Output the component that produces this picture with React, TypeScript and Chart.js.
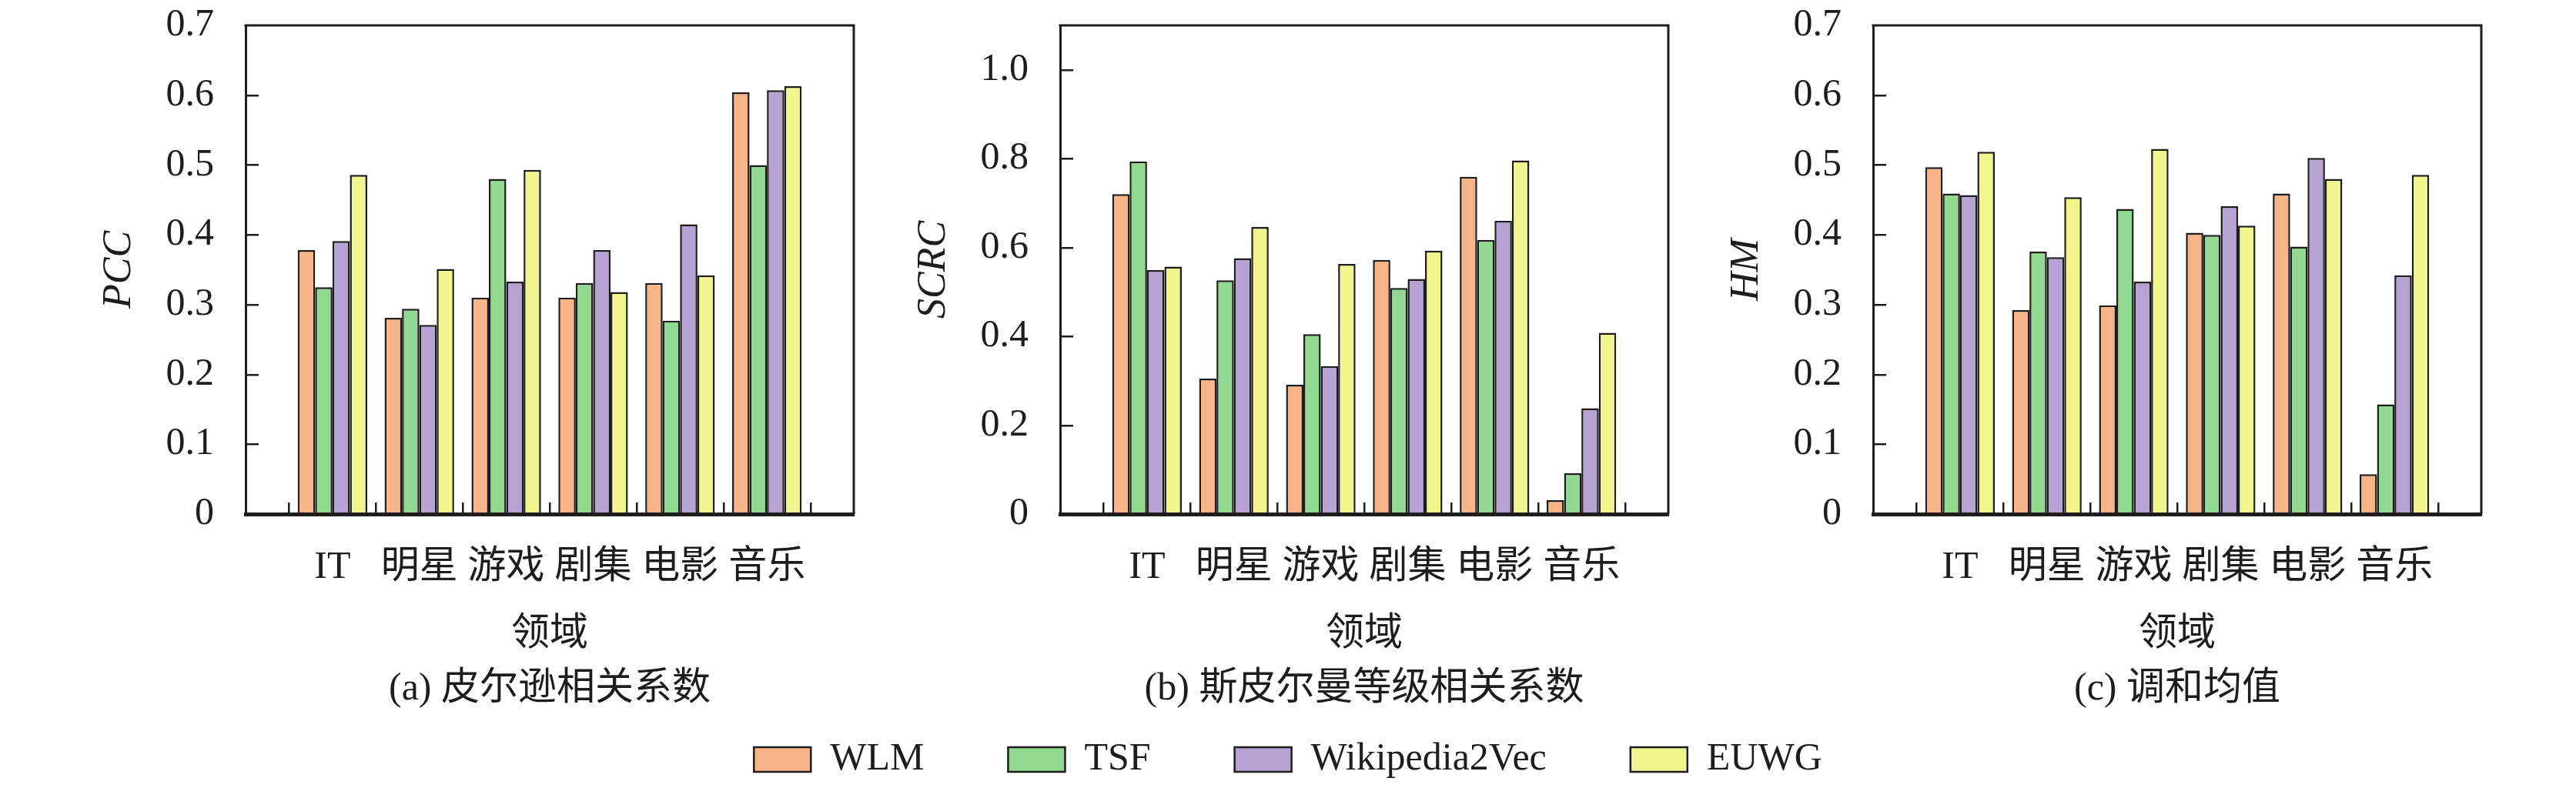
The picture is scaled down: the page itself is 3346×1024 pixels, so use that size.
import React, { useEffect, useRef } from 'react';
import { Chart, registerables } from 'chart.js';

Chart.register(...registerables);

// ---------------- data ----------------
const CATEGORIES = ['IT', '明星', '游戏', '剧集', '电影', '音乐'];
const SERIES_NAMES = ['WLM', 'TSF', 'Wikipedia2Vec', 'EUWG'];
const SERIES_COLORS = ['#F6B488', '#91D891', '#B7A2D4', '#F0F58D'];

const PCC_WLM = [0.378, 0.281, 0.310, 0.310, 0.331, 0.604];
const PCC_TSF = [0.325, 0.294, 0.480, 0.331, 0.277, 0.500];
const PCC_WIKI = [0.391, 0.271, 0.333, 0.378, 0.415, 0.607];
const PCC_EUWG = [0.486, 0.351, 0.493, 0.318, 0.342, 0.613];

const SCRC_WLM = [0.720, 0.305, 0.291, 0.572, 0.759, 0.031];
const SCRC_TSF = [0.794, 0.526, 0.405, 0.509, 0.617, 0.092];
const SCRC_WIKI = [0.549, 0.576, 0.333, 0.529, 0.660, 0.238];
const SCRC_EUWG = [0.557, 0.646, 0.563, 0.593, 0.796, 0.408];

const HM_WLM = [0.497, 0.292, 0.299, 0.403, 0.459, 0.057];
const HM_TSF = [0.459, 0.376, 0.437, 0.400, 0.383, 0.157];
const HM_WIKI = [0.457, 0.368, 0.333, 0.441, 0.510, 0.342];
const HM_EUWG = [0.519, 0.454, 0.523, 0.413, 0.480, 0.486];

const PCC_TICKS = [0, 0.1, 0.2, 0.3, 0.4, 0.5, 0.6, 0.7];
const SCRC_TICKS = [0, 0.2, 0.4, 0.6, 0.8, 1.0];
const HM_TICKS = [0, 0.1, 0.2, 0.3, 0.4, 0.5, 0.6, 0.7];

const X_TITLE = '领域';

// ---------------- style ----------------
const TEXT = '#1e1c1d';
const BAR_BORDER = '#1e1c1d';
const FAMILY = "'Liberation Serif', 'Times New Roman', 'Noto Sans CJK SC', serif";
const CW = 1115;
const CH = 940;

const fmt = (v: number) => (v === 0 ? '0' : Number(v).toFixed(1));

// frame (top + right lines) and inner tick marks, positioned through the scales
const framePlugin = {
  id: 'frame',
  afterDatasetsDraw(chart: any) {
    const { ctx, chartArea } = chart;
    const { left, right, top, bottom } = chartArea;
    const xs = chart.scales.x;
    const ys = chart.scales.y;
    ctx.save();
    ctx.strokeStyle = TEXT;
    ctx.lineWidth = 3;
    ctx.beginPath();
    ctx.moveTo(left - 1.5, top);
    ctx.lineTo(right, top);
    ctx.lineTo(right, bottom);
    ctx.stroke();
    ctx.lineWidth = 2.5;
    ctx.beginPath();
    for (let i = 0; i <= CATEGORIES.length; i++) {
      const px = Math.round(xs.getPixelForValue(i - 0.5)) + 0.25;
      ctx.moveTo(px, bottom);
      ctx.lineTo(px, bottom - 15);
    }
    const ticks = ys.ticks.map((t: any) => t.value);
    for (const v of ticks) {
      if (v <= ys.min || v >= ys.max) continue;
      const py = Math.round(ys.getPixelForValue(v)) + 0.25;
      ctx.moveTo(left, py);
      ctx.lineTo(left + 17, py);
    }
    ctx.stroke();
    ctx.restore();
  },
};

type PanelProps = {
  left: number;
  yTitle: string;
  subtitle: string;
  series: number[][];
  yMax: number;
  yTicks: number[];
};

function Panel({ left, yTitle, subtitle, series, yMax, yTicks }: PanelProps) {
  const ref = useRef<HTMLCanvasElement | null>(null);
  useEffect(() => {
    if (!ref.current) return;
    const font = { family: FAMILY, size: 50, weight: 'normal' as const, lineHeight: 1.2 };
    const chart = new Chart(ref.current, {
      type: 'bar',
      data: {
        datasets: SERIES_NAMES.map((name, k) => ({
          label: name,
          data: series[k].map((v, i) => ({ x: i, y: v })),
          backgroundColor: SERIES_COLORS[k],
          borderColor: BAR_BORDER,
          borderWidth: 2.5,
          categoryPercentage: 0.8,
          barPercentage: 1.0,
        })),
      },
      options: {
        responsive: false,
        animation: false,
        devicePixelRatio: 1,
        layout: { padding: { left: 0, right: 6, top: 33, bottom: 0 } },
        plugins: {
          legend: { display: false },
          tooltip: { enabled: false },
          title: {
            display: true,
            position: 'bottom',
            fullSize: false,
            text: subtitle,
            color: TEXT,
            font,
            padding: { top: 0, bottom: 14 },
          },
        },
        scales: {
          x: {
            type: 'linear',
            min: -1,
            max: 6,
            offset: false,
            afterBuildTicks: (s: any) => {
              s.ticks = CATEGORIES.map((_, i) => ({ value: i }));
            },
            afterFit: (s: any) => {
              s.height = 198;
              s.paddingLeft = 0;
              s.paddingRight = 0;
            },
            ticks: {
              callback: (_v: any, i: number) => CATEGORIES[i],
              color: TEXT,
              font,
              padding: 40,
              maxRotation: 0,
              minRotation: 0,
              autoSkip: false,
            },
            grid: { display: false, drawTicks: false, offset: false },
            border: { display: true, color: TEXT, width: 5, z: 1 },
            title: {
              display: true,
              text: X_TITLE,
              color: TEXT,
              font,
              padding: { top: 0, bottom: 11 },
            },
          } as any,
          y: {
            type: 'linear',
            min: 0,
            max: yMax,
            afterBuildTicks: (s: any) => {
              s.ticks = yTicks.map((v) => ({ value: v }));
            },
            afterFit: (s: any) => {
              s.width = 319;
              s.paddingTop = 0;
              s.paddingBottom = 0;
            },
            ticks: {
              callback: (v: any) => fmt(Number(v)),
              color: TEXT,
              font,
              padding: 41,
            },
            grid: { display: false, drawTicks: false },
            border: { display: true, color: TEXT, width: 3, z: 1 },
            title: {
              display: true,
              text: yTitle,
              color: TEXT,
              font: { family: FAMILY, size: 52, style: 'italic', weight: 'normal', lineHeight: 1.2 },
              padding: { top: 124, bottom: 0 },
            },
          } as any,
        },
      },
      plugins: [framePlugin],
    });
    return () => chart.destroy();
  }, []);
  return (
    <canvas
      ref={ref}
      width={CW}
      height={CH}
      style={{ position: 'absolute', left, top: 0, width: CW, height: CH }}
    />
  );
}

const LEGEND_TOP = 853;
const LEGEND_H = 420;

function Legend() {
  const ref = useRef<HTMLCanvasElement | null>(null);
  useEffect(() => {
    if (!ref.current) return;
    const chart = new Chart(ref.current, {
      type: 'bar',
      data: {
        labels: [],
        datasets: SERIES_NAMES.map((name, k) => ({
          label: name,
          data: [],
          backgroundColor: SERIES_COLORS[k],
          borderColor: BAR_BORDER,
          borderWidth: 2.5,
        })),
      },
      options: {
        responsive: false,
        animation: false,
        devicePixelRatio: 1,
        layout: { padding: 0 },
        scales: { x: { display: false }, y: { display: false } },
        plugins: {
          tooltip: { enabled: false },
          title: { display: false },
          legend: {
            display: true,
            position: 'top',
            align: 'center',
            labels: {
              boxWidth: 74,
              boxHeight: 32,
              padding: 109,
              color: TEXT,
              font: { family: FAMILY, size: 50, weight: 'normal' },
            },
          },
        },
      },
    });
    return () => chart.destroy();
  }, []);
  return (
    <canvas
      ref={ref}
      width={3346}
      height={LEGEND_H}
      style={{ position: 'absolute', left: 0, top: LEGEND_TOP, width: 3346, height: LEGEND_H }}
    />
  );
}

export default function App() {
  return (
    <div
      style={{
        position: 'absolute',
        left: 0,
        top: 0,
        width: 3346,
        height: 1024,
        background: '#ffffff',
        overflow: 'hidden',
      }}
    >
      <Panel
        left={0}
        yTitle="PCC"
        subtitle="(a) 皮尔逊相关系数"
        series={[PCC_WLM, PCC_TSF, PCC_WIKI, PCC_EUWG]}
        yMax={0.7}
        yTicks={PCC_TICKS}
      />
      <Panel
        left={1058}
        yTitle="SCRC"
        subtitle="(b) 斯皮尔曼等级相关系数"
        series={[SCRC_WLM, SCRC_TSF, SCRC_WIKI, SCRC_EUWG]}
        yMax={1.1}
        yTicks={SCRC_TICKS}
      />
      <Panel
        left={2114}
        yTitle="HM"
        subtitle="(c) 调和均值"
        series={[HM_WLM, HM_TSF, HM_WIKI, HM_EUWG]}
        yMax={0.7}
        yTicks={HM_TICKS}
      />
      <Legend />
    </div>
  );
}
